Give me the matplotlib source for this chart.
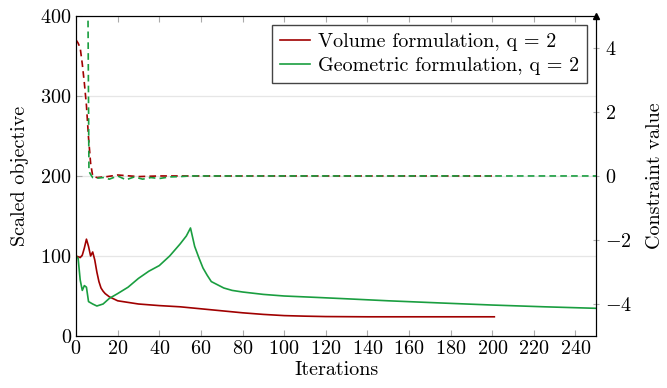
import numpy as np
import matplotlib
matplotlib.use('Agg')
import matplotlib.pyplot as plt

plt.rcParams['font.family'] = 'serif'
plt.rcParams['font.serif'] = ['cmr10', 'DejaVu Serif']
plt.rcParams['mathtext.fontset'] = 'cm'
plt.rcParams['axes.formatter.use_mathtext'] = True
plt.rcParams['font.size'] = 14.5

# objective, volume formulation
vol_it = [0, 1, 2, 3, 4, 5, 6, 7, 8, 9, 10, 11, 12, 13, 14, 16, 18, 20, 25, 30,
          40, 50, 60, 70, 80, 90, 100, 110, 120, 140, 160, 180, 201]
vol_obj = [100, 99, 98, 101, 110, 121, 112, 100, 105, 95, 80, 68, 60, 56, 53, 49, 46.5, 44, 42, 40,
           38, 36.5, 34, 31.5, 29, 27, 25.5, 24.8, 24.3, 24, 24, 24, 24]

# objective, geometric formulation
geo_it = [0, 1, 2, 3, 4, 5, 6, 8, 10, 13, 16, 20, 25, 30, 35, 40, 45, 50, 53, 55,
          57, 59, 61, 63, 65, 68, 71, 75, 80, 90, 100, 115, 130, 150, 175, 200, 225, 250]
geo_obj = [100, 97, 70, 57, 63, 61, 43, 40, 37.5, 40, 47, 53, 61, 72, 81, 88, 100, 115, 125, 135,
           112, 98, 85, 76, 68, 64, 60, 57, 55, 52, 50, 48.3, 46.5, 44, 41.3, 38.7, 36.5, 34.6]

# constraint values
vol_c_it = [0, 1, 2, 3, 4, 5, 6, 7, 8, 10, 15, 20, 30, 40, 60, 80, 120, 160, 201]
vol_c = [4.25, 4.15, 4.0, 3.5, 2.9, 2.2, 1.2, 0.4, 0.0, -0.05, -0.02, 0.03, -0.02, 0.0, 0.0, 0.0, 0.0, 0.0, 0.0]

geo_c_it = [0, 5.5, 5.7, 6.2, 7, 8, 10, 13, 16, 20, 24, 28, 32, 36, 40, 45, 50, 55, 60, 80, 120, 160, 200, 250]
geo_c = [60, 60, 5.5, 0.15, 0.05, -0.05, -0.07, -0.05, -0.1, 0.0, -0.12, -0.03, -0.1, -0.05, -0.08, -0.03, -0.02, 0.0,
         0.0, 0.0, 0.0, 0.0, 0.0, 0.0]

red = '#a00000'
green = '#1a9e40'

fig = plt.figure(figsize=(6.67, 3.88), dpi=100)
ax = fig.add_axes([0.114, 0.134, 0.780, 0.825])
ax2 = ax.twinx()

ax.plot(vol_it, vol_obj, color=red, lw=1.2, label='Volume formulation, q = 2')
ax.plot(geo_it, geo_obj, color=green, lw=1.2, label='Geometric formulation, q = 2')
ax2.plot(vol_c_it, vol_c, color=red, lw=1.2, dashes=(4, 2.5))
ax2.plot(geo_c_it, geo_c, color=green, lw=1.2, dashes=(4, 2.5))

ax.set_xlim(0, 250)
ax.set_ylim(0, 400)
ax2.set_ylim(-5, 5)
ax.set_xticks(np.arange(0, 241, 20))
ax.set_yticks([0, 100, 200, 300, 400])
ax2.set_yticks([-4, -2, 0, 2, 4])

ax.grid(axis='y', color='#e6e6e6', lw=0.9)
ax.set_axisbelow(True)
ax.tick_params(axis='both', direction='in', color='#aaaaaa', length=4, top=True, right=False, pad=3)
ax2.tick_params(axis='y', direction='inout', color='#aaaaaa', length=5, pad=4)

ax.set_xlabel('Iterations', labelpad=2)
ax.set_ylabel('Scaled objective', labelpad=8)
ax2.set_ylabel('Constraint value', labelpad=10)

for a in (ax, ax2):
    for s in a.spines.values():
        s.set_linewidth(0.8)

ax2.plot(1, 1, marker='^', color='k', markersize=4, transform=ax2.transAxes, clip_on=False)

ax.legend(loc='upper right', frameon=True, fancybox=False, edgecolor='#444444',
          framealpha=1, handlelength=1.5, handletextpad=0.4, borderaxespad=0.45, borderpad=0.4,
          labelspacing=0.3, fontsize=14.5)

fig.savefig('out.png', dpi=100)
